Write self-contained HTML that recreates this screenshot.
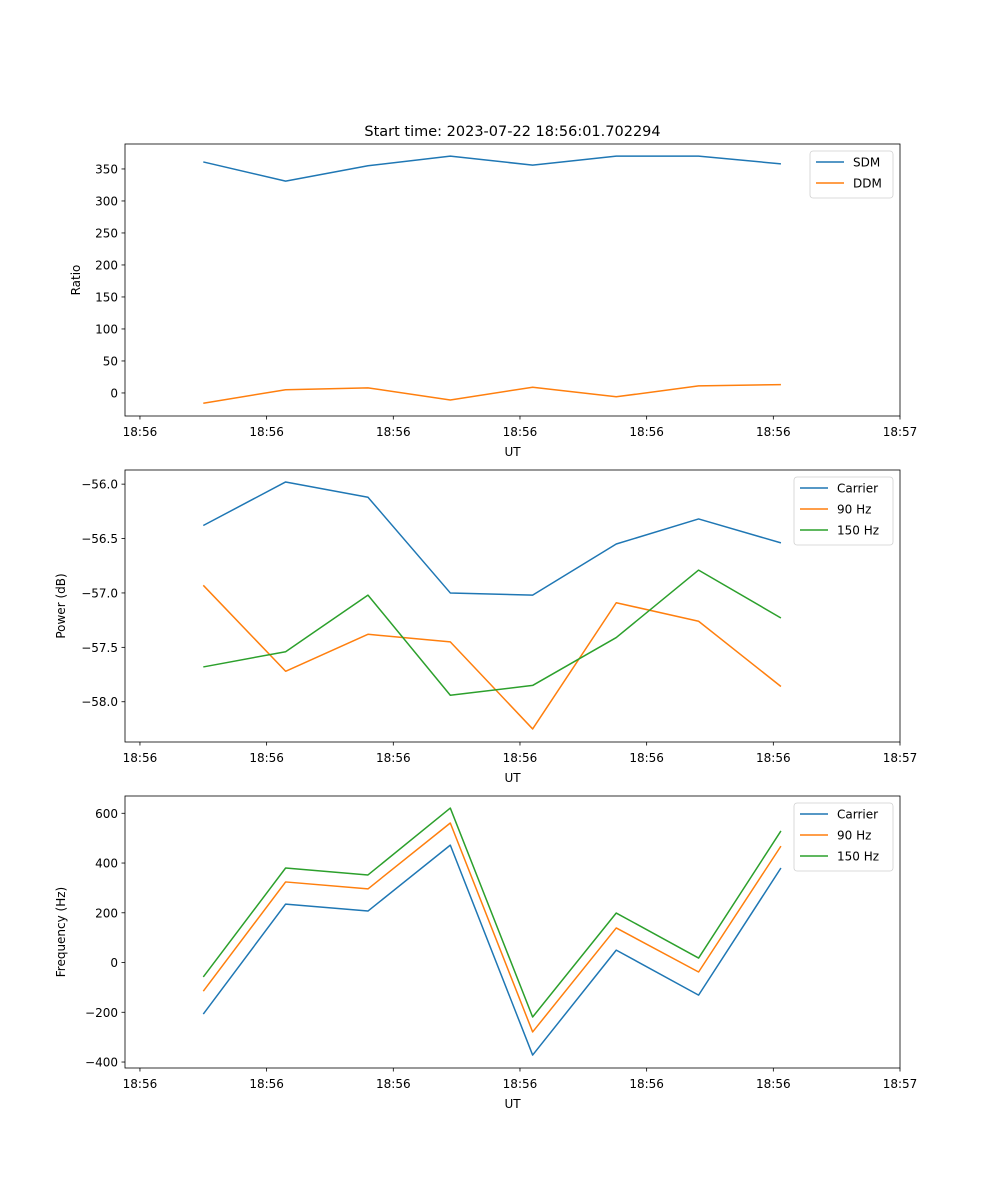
<!DOCTYPE html>
<html><head><meta charset="utf-8">
<style>
html,body{margin:0;padding:0;background:#fff;}
svg{display:block;font-family:"DejaVu Sans","Liberation Sans",sans-serif;}
</style></head>
<body>
<svg id="fig" width="1000" height="1200" viewBox="0 0 1000 1200" xmlns="http://www.w3.org/2000/svg">
<rect width="1000" height="1200" fill="#fff"/>
<text x="512.5" y="136" font-size="14.5" text-anchor="middle" fill="#000">Start time: 2023-07-22 18:56:01.702294</text>
</svg>
<script>
// x values: seconds after 18:56:00
const times = [5.0, 11.5, 18.0, 24.5, 31.0, 37.6, 44.1, 50.6];
const xTicks = [0, 10, 20, 30, 40, 50, 60];
const xTickLabels = ["18:56","18:56","18:56","18:56","18:56","18:56","18:57"];

const sdm = [361, 331, 355, 370, 356, 370, 370, 358];
const ddm = [-16, 5, 8, -11, 9, -6, 11, 13];
const ratioTicks = [0, 50, 100, 150, 200, 250, 300, 350];

const powCarrier = [-56.38, -55.98, -56.12, -57.00, -57.02, -56.55, -56.32, -56.54];
const pow90 = [-56.93, -57.72, -57.38, -57.45, -58.25, -57.09, -57.26, -57.86];
const pow150 = [-57.68, -57.54, -57.02, -57.94, -57.85, -57.41, -56.79, -57.23];
const powTicks = [-58.0, -57.5, -57.0, -56.5, -56.0];

const freqCarrier = [-207, 235, 207, 472, -372, 50, -131, 380];
const freq90 = [-115, 324, 296, 561, -279, 139, -38, 468];
const freq150 = [-58, 380, 352, 621, -219, 199, 18, 529];
const freqTicks = [-400, -200, 0, 200, 400, 600];

const NS = "http://www.w3.org/2000/svg";
const svg = document.getElementById("fig");
function mk(tag, attrs, parent){
  const e = document.createElementNS(NS, tag);
  for (const k in attrs) e.setAttribute(k, attrs[k]);
  (parent||svg).appendChild(e);
  return e;
}
const L = 125, R = 900;
const xMin = -1.18, xMax = 60;
function xs(t){ return L + (t - xMin) / (xMax - xMin) * (R - L); }
const C = ["#1f77b4", "#ff7f0e", "#2ca02c"];

function panel(key, top, bot, yMin, yMax, ticks, fmt, ylabel, series, names, legW){
  const g = mk("g", {});
  
  
  const ys = v => bot - (v - yMin) / (yMax - yMin) * (bot - top);
  series.forEach((s, si) => {
    const p = mk("polyline", {points: s.map((v,i)=>xs(times[i]).toFixed(2)+","+ys(v).toFixed(2)).join(" "), fill:"none", stroke:C[si], "stroke-width":1.5, "stroke-linejoin":"round"}, g);
    
    
  });
  const fr = mk("rect", {x:L, y:top, width:R-L, height:bot-top, fill:"none", stroke:"#000", "stroke-width":0.8}, g);
  
  
  ticks.forEach(v => {
    const y = ys(v);
    mk("line", {x1:L-3.5, x2:L, y1:y, y2:y, stroke:"#000", "stroke-width":0.8}, g);
    const t = mk("text", {x:L-7, y:y+4.5, "font-size":12, "text-anchor":"end", fill:"#000"}, g);
    t.textContent = fmt(v);
    
    
  });
  xTicks.forEach((tv, i) => {
    const x = xs(tv);
    mk("line", {x1:x, x2:x, y1:bot, y2:bot+3.5, stroke:"#000", "stroke-width":0.8}, g);
    const t = mk("text", {x:x, y:bot+20, "font-size":12, "text-anchor":"middle", fill:"#000"}, g);
    t.textContent = xTickLabels[i];
    
    
  });
  const xl = mk("text", {x:(L+R)/2, y:bot+40, "font-size":12, "text-anchor":"middle", fill:"#000"}, g);
  xl.textContent = "UT";
  
  
  const yc = (top+bot)/2;
  const lx = key === "ratio" ? 80 : 65;
  const yl = mk("text", {x:lx, y:yc, "font-size":12, "text-anchor":"middle", fill:"#000", transform:`rotate(-90 ${lx} ${yc})`}, g);
  yl.textContent = ylabel;
  
  
  // legend
  const lg = mk("g", {}, g);
  
  
  const lh = 5 + names.length * 21;
  const lxp = R - 7 - legW;
  mk("rect", {x:lxp, y:top+7, width:legW, height:lh, rx:3, fill:"#fff", "fill-opacity":0.8, stroke:"#d0d0d0", "stroke-width":0.8}, lg);
  names.forEach((n, i) => {
    const yy = top + 7 + 11 + i*21;
    mk("line", {x1:lxp+6, x2:lxp+34, y1:yy, y2:yy, stroke:C[i], "stroke-width":1.5}, lg);
    const t = mk("text", {x:lxp+43, y:yy+4.5, "font-size":12, fill:"#000"}, lg);
    t.textContent = n;
    
    
  });
}

panel("ratio", 144, 416, -36, 389, ratioTicks, v=>v<0?"\u2212"+(-v):String(v), "Ratio", [sdm, ddm], ["SDM","DDM"], 83);
panel("power", 470, 742, -58.37, -55.87, powTicks, v=>"\u2212"+(-v).toFixed(1), "Power (dB)", [powCarrier, pow90, pow150], ["Carrier","90 Hz","150 Hz"], 99);
panel("frequency", 796, 1068, -424, 669.5, freqTicks, v=>v<0?"\u2212"+(-v):String(v), "Frequency (Hz)", [freqCarrier, freq90, freq150], ["Carrier","90 Hz","150 Hz"], 99);
</script>
</body></html>
